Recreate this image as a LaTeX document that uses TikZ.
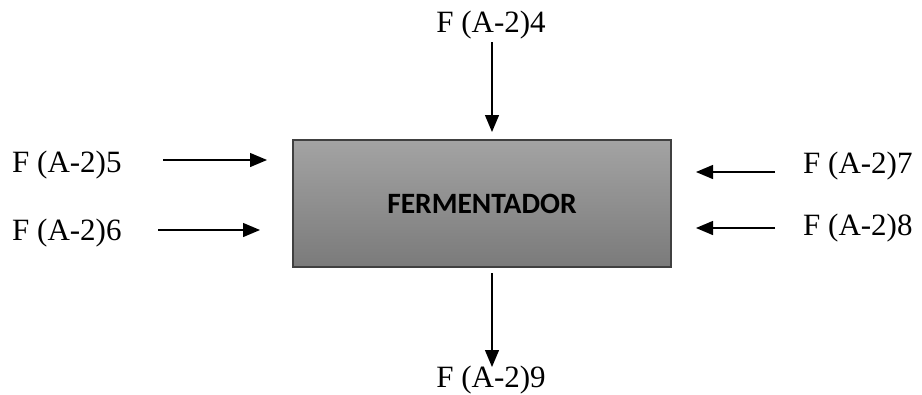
\documentclass[tikz,border=0pt]{standalone}
\usepackage{fontspec}
\setmainfont{Liberation Serif}
\newfontfamily\boxfont{Carlito}
\usetikzlibrary{arrows.meta}
\begin{document}
\begin{tikzpicture}[x=1pt,y=-1pt,
  lbl/.style={inner sep=0pt,font=\fontsize{31}{36}\selectfont},
  flow/.style={line width=1.3pt,-{Triangle[length=17pt,width=14pt]}},
  unit/.style={draw=black!75,line width=1.5pt,top color=black!36,bottom color=black!52,
    minimum width=378pt,minimum height=127pt,inner sep=0pt,
    font=\boxfont\bfseries\fontsize{29.5}{34}\selectfont}]
\useasboundingbox (0,0) rectangle (922,394);
\node[unit] (box) at (482,203.5) {FERMENTADOR};
\node[lbl,anchor=base] (l4) at (491,32) {F (A-2)4};
\node[lbl,anchor=base west] (l5) at (12,172) {F (A-2)5};
\node[lbl,anchor=base west] (l6) at (12,240) {F (A-2)6};
\node[lbl,anchor=base west] (l7) at (803,173) {F (A-2)7};
\node[lbl,anchor=base west] (l8) at (803,235) {F (A-2)8};
\node[lbl,anchor=base] (l9) at (491,387) {F (A-2)9};
\coordinate (a4s) at (492,42);  \coordinate (a4e) at (492,132);
\coordinate (a5s) at (163,160); \coordinate (a5e) at (267,160);
\coordinate (a6s) at (158,230); \coordinate (a6e) at (260,230);
\coordinate (a7s) at (775,172); \coordinate (a7e) at (696,172);
\coordinate (a8s) at (775,228); \coordinate (a8e) at (696,228);
\coordinate (a9s) at (492,273); \coordinate (a9e) at (492,367);
\draw[flow] (a4s) -- (a4e);
\draw[flow] (a5s) -- (a5e);
\draw[flow] (a6s) -- (a6e);
\draw[flow] (a7s) -- (a7e);
\draw[flow] (a8s) -- (a8e);
\draw[flow] (a9s) -- (a9e);
\end{tikzpicture}
\end{document}
